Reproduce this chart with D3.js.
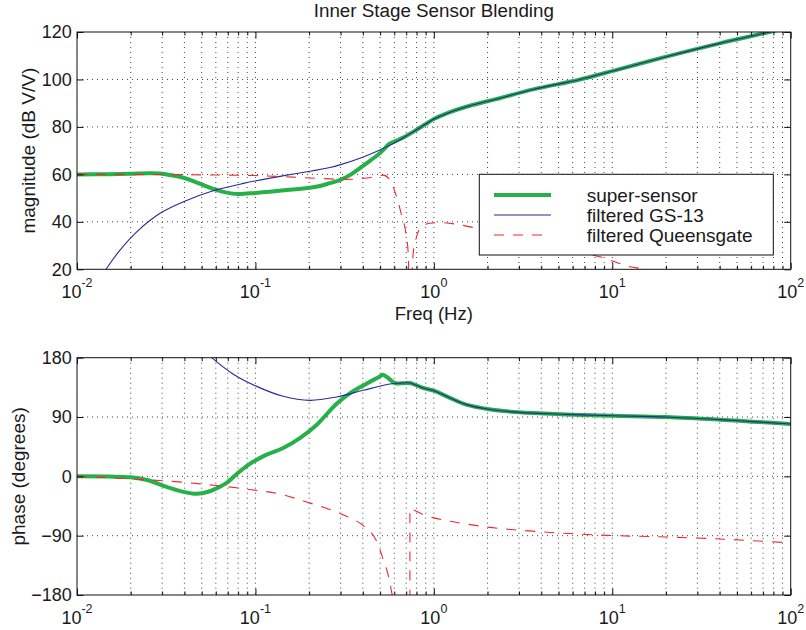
<!DOCTYPE html>
<html><head><meta charset="utf-8">
<script src="https://cdn.jsdelivr.net/npm/d3@7"></script>
<style>
body{margin:0;background:#fff}
svg{display:block}
text{font-family:"Liberation Sans",Arial,Helvetica,sans-serif;fill:#1a1a1a}
</style>
</head><body>
<svg id="c" width="806" height="630"></svg>
<script>
// ---- data ----
const freqMajor = [0.01, 0.1, 1, 10, 100];
const freqExp = ["-2", "-1", "0", "1", "2"];
const magTicks = [20, 40, 60, 80, 100, 120];
const phaseTicks = [-180, -90, 0, 90, 180];
const seriesNames = ["super-sensor", "filtered GS-13", "filtered Queensgate"];

// magnitude (dB V/V) : [freq Hz, dB]
const superMag = [[0.01,60],[0.015,60.1],[0.02,60.3],[0.025,60.5],[0.0292,60.4],[0.034,59.6],[0.0395,58.6],[0.048,56.3],[0.058,53.9],[0.068,52.4],[0.08,51.7],[0.1,52.2],[0.12,52.7],[0.15,53.4],[0.202,54.4],[0.23,55.1],[0.261,56.3],[0.297,57.6],[0.34,59.8],[0.385,62.6],[0.44,65.8],[0.498,68.9],[0.535,71.2],[0.56,72.8],[0.6,73.8],[0.646,74.9],[0.7,76.2],[0.8,78.8],[0.9,81.2],[1.0,83.3],[1.2,85.9],[1.52,88.5],[2.0,90.8],[2.34,92.1],[3.6,95.8],[6.6,100],[10.1,103.6],[20.1,109.6],[40,115.2],[76,120],[100,122.2]];
const gsMag = [[0.013,14],[0.01454,20],[0.01742,28.1],[0.02163,35.8],[0.0292,43.6],[0.0395,48.5],[0.058,53.1],[0.0856,56.2],[0.1496,59.7],[0.202,61.3],[0.261,62.9],[0.297,64.0],[0.385,66.8],[0.498,70.3],[0.567,72.3],[0.6,73.2],[0.646,74.6],[0.7,76.2],[0.8,78.8],[0.9,81.2],[1.0,83.3],[1.2,85.9],[1.52,88.5],[2.0,90.8],[2.34,92.1],[3.6,95.8],[6.6,100],[10.1,103.6],[20.1,109.6],[40,115.2],[76,120],[100,122.2]];
const qgMag = [[0.01,60],[0.02,60],[0.05,59.8],[0.1,59.5],[0.2,58.5],[0.26,58.1],[0.3,57.9],[0.36,58.0],[0.42,58.5],[0.48,59.2],[0.52,59.7],[0.567,57.6],[0.618,50.6],[0.659,42.9],[0.697,35.2],[0.718,26.9],[0.734,0],[0.766,26.7],[0.8,33.7],[0.853,38],[0.95,39.4],[1.08,39.7],[1.34,39.0],[1.73,37.3],[3,33],[5,29],[8.5,25.3],[12.6,21.1],[15.2,20],[20,17],[30,12]];

// phase (degrees) : [freq Hz, deg]
const superPh = [[0.01,0],[0.015,-0.3],[0.02,-1.5],[0.025,-6],[0.0318,-16],[0.0395,-23.5],[0.0468,-26.5],[0.055,-23],[0.0607,-18],[0.069,-10],[0.0752,-1],[0.084,10],[0.093,19],[0.1,24],[0.1156,32.9],[0.143,43],[0.1775,58],[0.22,78],[0.285,110],[0.338,126],[0.419,140.5],[0.498,151.5],[0.516,154],[0.55,150],[0.604,141.6],[0.68,141.4],[0.734,141.6],[0.871,134],[1.0,130],[1.23,119],[1.52,108.8],[2.0,102.2],[3.0,97.1],[5.5,94],[10,92],[20,90],[40,86],[61,83],[100,79.5]];
const gsPh = [[0.05,195],[0.0569,180],[0.0752,155],[0.1017,136.5],[0.143,121.4],[0.202,115.3],[0.285,120.4],[0.402,130.5],[0.567,140],[0.65,141.4],[0.734,141.6],[0.871,134],[1.0,130],[1.23,119],[1.52,108.8],[2.0,102.2],[3.0,97.1],[5.5,94],[10,92],[20,90],[40,86],[61,83],[100,79.5]];
const qgPh = [[0.01,0],[0.015,-2],[0.0207,-4],[0.0395,-9],[0.0605,-14],[0.093,-20],[0.143,-28],[0.17,-34],[0.194,-39],[0.256,-49.5],[0.324,-60.6],[0.402,-74.8],[0.478,-98.6],[0.52,-126],[0.557,-151.7],[0.585,-181],[0.62,-220],[0.7,-250],[0.734,-260],[0.7345,-49],[0.766,-50.5],[0.87,-58],[1.0,-63],[1.18,-67.2],[1.52,-72.3],[1.97,-76.8],[3.93,-84],[9.3,-89.5],[20,-92],[40,-95],[100,-101]];

// ---- styles ----
const styles = [
  {color:"#26b04a", width:4, dash:null, curve:d3.curveCatmullRom.alpha(0.5)},
  {color:"#2a2a96", width:1.1, dash:null, curve:d3.curveCatmullRom.alpha(0.5)},
  {color:"#ee2a2a", width:1.1, dash:"10,9", curve:d3.curveMonotoneX}
];

const svg = d3.select("#c");
const X0 = 77, X1 = 790.7;
const x = d3.scaleLog().domain([0.01, 100]).range([X0, X1]);

const panels = [
  {y: d3.scaleLinear().domain([20,120]).range([269.3,32]), ticks: magTicks, label:"magnitude (dB V/V)", labelX:34.5, data:[superMag, gsMag, qgMag], xlabel:true},
  {y: d3.scaleLinear().domain([-180,180]).range([595,357.7]), ticks: phaseTicks, label:"phase (degrees)", labelX:24.5, data:[superPh, gsPh, qgPh], xlabel:false}
];

const isMajor = v => Math.abs(Math.log10(v) - Math.round(Math.log10(v))) < 1e-6;
const allX = x.ticks();
const minorX = allX.filter(v => !isMajor(v));

panels.forEach((p, i) => {
  const [yb, yt] = p.y.range();
  const g = svg.append("g");
  const clipId = "clip" + i;
  svg.append("clipPath").attr("id", clipId).append("rect")
    .attr("x", X0).attr("y", yt).attr("width", X1 - X0).attr("height", yb - yt);

  // grid
  const grid = g.append("g").attr("stroke", "#444").attr("stroke-width", 1).attr("stroke-dasharray", "1,4");
  grid.selectAll("line.v").data(allX.filter(v => v > 0.0100001 && v < 99.999)).join("line")
    .attr("x1", d => x(d)).attr("x2", d => x(d)).attr("y1", yt).attr("y2", yb);
  grid.selectAll("line.h").data(p.ticks.slice(1, -1)).join("line")
    .attr("x1", X0).attr("x2", X1).attr("y1", d => p.y(d)).attr("y2", d => p.y(d));

  // curves
  const cg = g.append("g").attr("clip-path", `url(#${clipId})`);
  p.data.forEach((s, k) => {
    const line = d3.line().x(d => x(d[0])).y(d => p.y(d[1])).curve(styles[k].curve);
    cg.append("path").attr("d", line(s)).attr("fill", "none")
      .attr("stroke", styles[k].color).attr("stroke-width", styles[k].width)
      .attr("stroke-dasharray", styles[k].dash).attr("stroke-linejoin", "round");
  });

  // frame
  g.append("rect").attr("x", X0).attr("y", yt).attr("width", X1 - X0).attr("height", yb - yt)
    .attr("fill", "none").attr("stroke", "#111").attr("stroke-width", 1);

  // axes (ticks inside)
  const styleAxis = sel => { sel.attr("color", "#111"); sel.select(".domain").remove(); sel.selectAll("text").attr("font-family", null).attr("font-size", 18); };
  g.append("g").attr("transform", `translate(0,${yb})`).call(d3.axisBottom(x).tickValues(freqMajor).tickSize(-6.5).tickFormat("")).call(styleAxis);
  g.append("g").attr("transform", `translate(0,${yb})`).call(d3.axisBottom(x).tickValues(minorX).tickSize(-3.5).tickFormat("")).call(styleAxis);
  g.append("g").attr("transform", `translate(0,${yt})`).call(d3.axisTop(x).tickValues(freqMajor).tickSize(-6.5).tickFormat("")).call(styleAxis);
  g.append("g").attr("transform", `translate(0,${yt})`).call(d3.axisTop(x).tickValues(minorX).tickSize(-3.5).tickFormat("")).call(styleAxis);
  g.append("g").attr("transform", `translate(${X0},0)`).call(d3.axisLeft(p.y).tickValues(p.ticks).tickSize(-6.5).tickPadding(5.3).tickFormat(d3.format("d"))).call(styleAxis);
  g.append("g").attr("transform", `translate(${X1},0)`).call(d3.axisRight(p.y).tickValues(p.ticks).tickSize(-6.5).tickFormat("")).call(styleAxis);

  // x tick labels 10^n
  const xl = g.append("g");
  freqMajor.forEach((v, k) => {
    const t = xl.append("text").attr("x", x(v)).attr("y", yb + 29).attr("text-anchor", "middle").attr("font-size", 18);
    t.append("tspan").text("10");
    t.append("tspan").attr("dy", -11.5).attr("font-size", 12.5).text(freqExp[k]);
  });

  // y label
  g.append("text").attr("transform", `translate(${p.labelX},${(yt + yb) / 2}) rotate(-90)`)
    .attr("text-anchor", "middle").attr("font-size", 19).text(p.label);

  if (p.xlabel) {
    g.append("text").attr("x", (X0 + X1) / 2).attr("y", 320).attr("text-anchor", "middle")
      .attr("font-size", 18.5).text("Freq (Hz)");
  }
});

// title
svg.append("text").attr("x", (X0 + X1) / 2).attr("y", 17.3).attr("text-anchor", "middle")
  .attr("font-size", 18.8).text("Inner Stage Sensor Blending");

// legend
const lg = svg.append("g");
lg.append("rect").attr("x", 479.3).attr("y", 174.3).attr("width", 294).attr("height", 80.7)
  .attr("fill", "#fff").attr("stroke", "#111").attr("stroke-width", 1);
seriesNames.forEach((n, k) => {
  const yy = 195 + k * 20;
  lg.append("line").attr("x1", 494).attr("x2", 551).attr("y1", yy).attr("y2", yy)
    .attr("stroke", styles[k].color).attr("stroke-width", styles[k].width).attr("stroke-dasharray", styles[k].dash);
  lg.append("text").attr("x", 586.7).attr("y", yy + 6.6).attr("font-size", 19).text(n);
});
</script>
</body></html>
